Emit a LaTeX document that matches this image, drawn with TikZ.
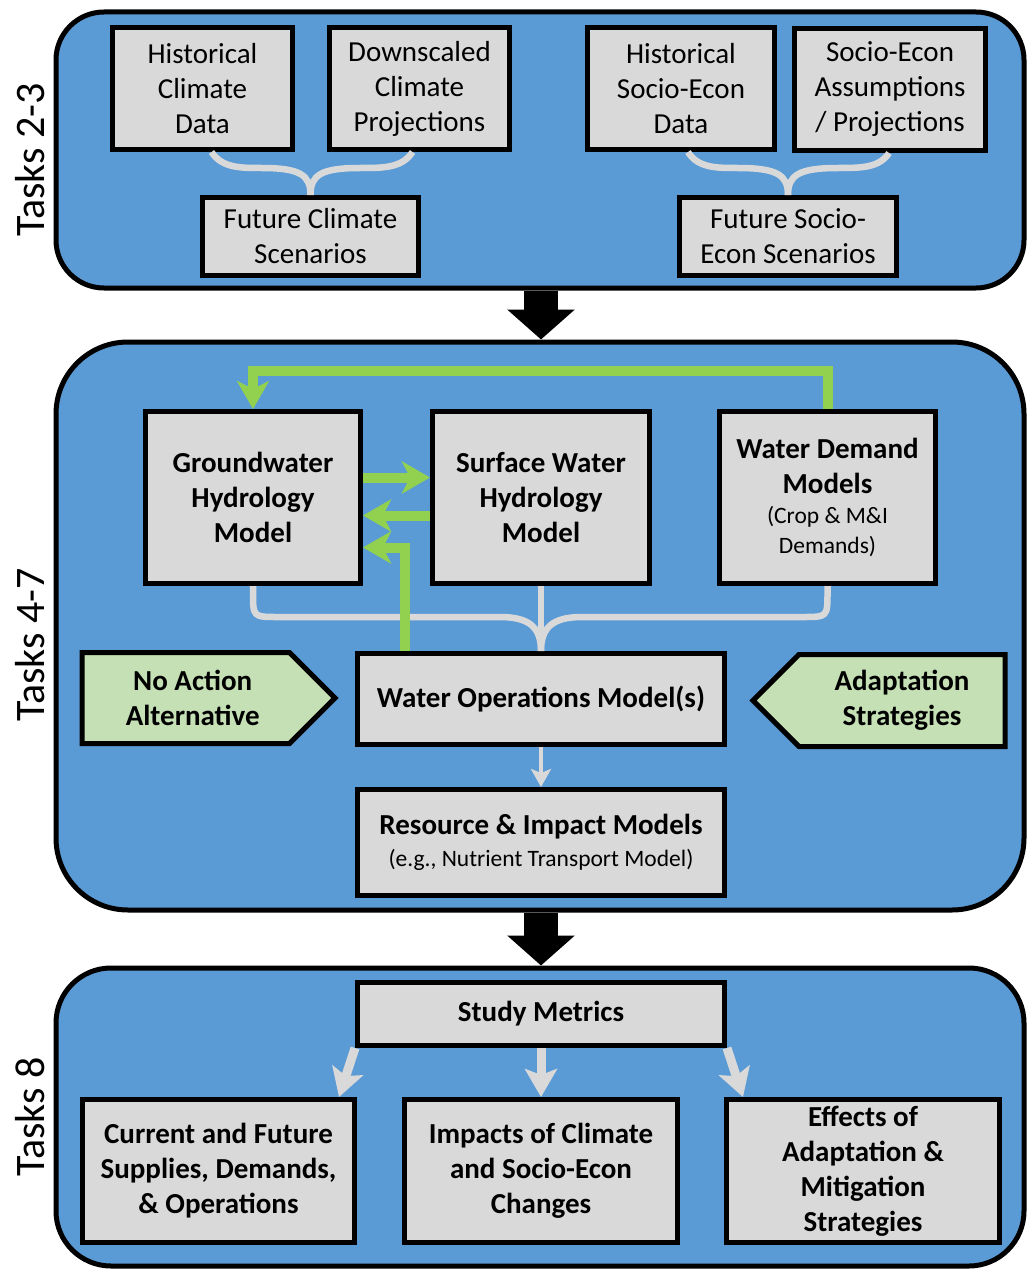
\documentclass[tikz,border=0pt]{standalone}
\usepackage{fontspec}
\setmainfont{Carlito}
\usetikzlibrary{arrows.meta, shapes.symbols}
\definecolor{panelblue}{HTML}{5B9BD5}
\definecolor{boxgray}{HTML}{D9D9D9}
\definecolor{linkgreen}{HTML}{92D050}
\definecolor{optgreen}{HTML}{C5E0B4}
\newcommand{\notefont}{\fontsize{23.5}{30}\selectfont\mdseries}

\begin{document}
\begin{tikzpicture}[x=1pt, y=-1pt,
	panel/.style = {draw, line width=5pt, fill=panelblue},
	box/.style = {draw, line width=5pt, fill=boxgray, align=center, inner sep=0pt, font=\fontsize{29}{35}\selectfont},
	bbox/.style = {box, font=\fontsize{29}{35}\selectfont\bfseries},
	opt/.style = {shape=signal, signal pointer angle=90, draw, line width=5pt, fill=optgreen, align=center, inner sep=0pt, font=\fontsize{29}{35}\selectfont\bfseries},
	brace/.style = {draw=boxgray, line width=6.5pt},
	grn/.style = {draw=linkgreen, line width=10pt, -{Stealth[length=28pt, width=32pt, inset=8pt]}},
	garr/.style = {draw=boxgray, line width=9pt, -{Stealth[length=28pt, width=32pt, inset=6pt]}},
	bigarr/.style = {line width=34pt, -{Triangle[length=30pt, width=66pt]}},
	task/.style = {rotate=90, font=\fontsize{42}{42}\selectfont}]
	\useasboundingbox (0,0) rectangle (1026,1271);

	\node[panel, rounded corners=48pt, minimum width=968pt, minimum height=276pt] (p1) at (540,150) {};
	\node[panel, rounded corners=72pt, minimum width=968pt, minimum height=568pt] (p2) at (540,626) {};
	\node[panel, rounded corners=55pt, minimum width=968pt, minimum height=298pt] (p3) at (540,1117) {};

	\node[task] (t1) at (30,160) {Tasks 2-3};
	\node[task] (t2) at (30,645) {Tasks 4-7};
	\node[task] (t3) at (30,1117) {Tasks 8};

	\node[box, minimum width=180pt, minimum height=122pt] (hcd) at (202.5,88.5) {Historical\\Climate\\Data};
	\node[box, minimum width=180pt, minimum height=122pt] (dcp) at (419.5,88.5) {Downscaled\\Climate\\Projections};
	\node[box, minimum width=187pt, minimum height=122pt] (hsd) at (681,88.5) {Historical\\Socio-Econ\\Data};
	\node[box, minimum width=191pt, minimum height=122pt] (sea) at (890,89.5) {Socio-Econ\\Assumptions\\/ Projections};
	\node[box, minimum width=216pt, minimum height=78pt] (fcs) at (310.5,236.5) {Future Climate\\Scenarios};
	\node[box, minimum width=217pt, minimum height=78pt] (fss) at (788,236.5) {Future Socio-\\Econ Scenarios};

	\draw[brace] ([xshift=9pt]hcd.south) .. controls (222,168) and (240,168) .. (262,168) .. controls (300,168) and (310.5,175) .. (fcs.north);
	\draw[brace] ([xshift=-7pt]dcp.south) .. controls (402,168) and (384,168) .. (360,168) .. controls (321,168) and (310.5,175) .. (fcs.north);
	\draw[brace] ([xshift=7pt]hsd.south) .. controls (698,168) and (716,168) .. (738,168) .. controls (777,168) and (788,175) .. (fss.north);
	\draw[brace] ([xshift=-1pt]sea.south) .. controls (879,168) and (861,168) .. (838,168) .. controls (799,168) and (788,175) .. (fss.north);

	\node[bbox, minimum width=215pt, minimum height=172pt] (gw) at (253,497.5) {Groundwater\\Hydrology\\Model};
	\node[bbox, minimum width=217pt, minimum height=172pt] (sw) at (541,497.5) {Surface Water\\Hydrology\\Model};
	\node[bbox, minimum width=216pt, minimum height=172pt] (wd) at (827.5,497.5) {Water Demand\\Models\\[-5pt]{\notefont(Crop \& M\&I}\\[-5pt]{\notefont Demands)}};
	\node[bbox, minimum width=367pt, minimum height=91pt] (wom) at (541,699) {Water Operations Model(s)};
	\node[bbox, minimum width=367pt, minimum height=106pt] (rim) at (541,842.5) {Resource \& Impact Models\\[-3pt]{\notefont(e.g., Nutrient Transport Model)}};
	\node[opt, signal to=east, minimum width=253pt, minimum height=91pt, anchor=west] (nac) at (79.5,698) {\hspace*{14pt}No Action\\\hspace*{14pt}Alternative};
	\node[opt, signal to=west, minimum width=252pt, minimum height=92pt, anchor=east] (ads) at (1007.5,700.5) {Adaptation\\Strategies};

	\draw[brace] (gw.south) -- (253,592) .. controls (253,617) .. (278,617) -- (500,617) .. controls (530,617) and (541,628) .. (wom.north);
	\draw[brace] (wd.south) -- (827.5,592) .. controls (827.5,617) .. (802.5,617) -- (582,617) .. controls (552,617) and (541,628) .. (wom.north);
	\draw[brace] (sw.south) -- (wom.north);
	\draw[draw=boxgray, line width=4pt, -{Stealth[length=18pt, width=20pt, inset=4pt]}] (wom.south) -- (rim.north);

	\draw[grn] (wd.north) -- ++(0,-38) -| (gw.north);
	\draw[grn] ([yshift=20pt]gw.east) -- ([yshift=20pt]sw.west);
	\draw[grn] ([yshift=-18pt]sw.west) -- ([yshift=-18pt]gw.east);
	\draw[grn] ([xshift=50pt]wom.north west) |- ([yshift=-50pt]gw.east);

	\node[bbox, minimum width=367pt, minimum height=63pt] (sm) at (541,1014) {Study Metrics};
	\node[bbox, minimum width=272pt, minimum height=143pt] (cfs) at (218.5,1171) {Current and Future\\Supplies, Demands,\\\& Operations};
	\node[bbox, minimum width=273pt, minimum height=143pt] (icc) at (541,1171) {Impacts of Climate\\and Socio-Econ\\Changes};
	\node[bbox, minimum width=273pt, minimum height=143pt] (eam) at (863,1171) {Effects of\\Adaptation \&\\Mitigation\\Strategies};

	\draw[garr] (sm.south west) -- ([xshift=-18pt]cfs.north east);
	\draw[garr] (sm.south) -- (icc.north);
	\draw[garr] (sm.south east) -- ([xshift=19pt]eam.north west);

	\draw[bigarr] (p1.south -| wom) -- (p2.north -| wom);
	\draw[bigarr] (p2.south -| wom) -- (p3.north -| wom);
\end{tikzpicture}
\end{document}
